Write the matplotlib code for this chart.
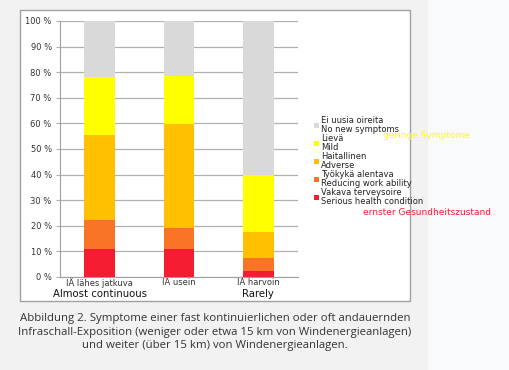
import numpy as np
import matplotlib.pyplot as plt
from matplotlib.patches import Rectangle

# data (percent), one list per symptom class
kategoriat = ["IÄ lähes jatkuva", "IÄ usein", "IÄ harvoin"]
englanti = ["Almost continuous", "", "Rarely"]
vakava = [11.0, 10.8, 2.4]
tyokyky = [11.2, 8.5, 5.1]
haitallinen = [33.3, 40.3, 10.0]
lieva = [22.5, 19.0, 22.5]
ei_uusia = [22.0, 21.4, 60.0]

sarjat = [
    ("Vakava terveysoire\nSerious health condition", vakava, "#f41c31"),
    ("Työkykä alentava\nReducing work ability", tyokyky, "#fa7427"),
    ("Haitallinen\nAdverse", haitallinen, "#ffc000"),
    ("Lievä\nMild", lieva, "#ffff00"),
    ("Ei uusia oireita\nNo new symptoms", ei_uusia, "#d9d9d9"),
]

W, H = 510, 370
fig = plt.figure(figsize=(W / 100, H / 100), dpi=100)
fig.patch.set_facecolor("#f9fafc")

# gray panel + white chart box
fig.patches.append(Rectangle((0, 0), 428 / W, 1, transform=fig.transFigure,
                             facecolor="#f2f2f2", edgecolor="none", zorder=-2))
fig.patches.append(Rectangle((20 / W, 1 - 301 / H), 390 / W, 291 / H,
                             transform=fig.transFigure, facecolor="white",
                             edgecolor="#a0a0a0", linewidth=1.0, zorder=-1))

ax = fig.add_axes([60 / W, 1 - 277 / H, 238 / W, 256 / H])
ax.set_facecolor("none")
x = np.arange(len(kategoriat))
pohja = np.zeros(len(kategoriat))
for nimi, arvot, vari in sarjat:
    ax.bar(x, arvot, 0.39, bottom=pohja, color=vari, label=nimi, zorder=3)
    pohja = pohja + np.array(arvot)

ax.set_xlim(-0.5, 2.5)
ax.set_ylim(0, 100)
ax.set_yticks(np.arange(0, 101, 10))
ax.set_yticklabels([f"{v} %" for v in range(0, 101, 10)], fontsize=6, color="#333333")
ax.yaxis.grid(True, color="#b0b0b0", linewidth=0.9, zorder=0)
ax.set_xticks(x)
ax.set_xticklabels(kategoriat, fontsize=6, color="#333333")
ax.tick_params(axis="x", length=0, pad=1)
ax.tick_params(axis="y", length=3, color="#b0b0b0", pad=3)
for s in ["top", "right"]:
    ax.spines[s].set_visible(False)
ax.spines["left"].set_color("#a0a0a0")
ax.spines["bottom"].set_color("#a0a0a0")

for i, t in enumerate(englanti):
    if t:
        ax.text(i, -4.6, t, ha="center", va="top", fontsize=7.3, color="#111111")

h, l = ax.get_legend_handles_labels()
leg = ax.legend(h[::-1], l[::-1], loc="upper left", bbox_to_anchor=(1.05, 0.645),
                frameon=False, fontsize=6, handlelength=0.55, handleheight=0.55,
                handletextpad=0.3, labelspacing=0.05, borderpad=0)
for t in leg.get_texts():
    t.set_color("#222222")
    t.set_linespacing(0.95)

fig.text(383 / W, 1 - 135.5 / H, "geringe Symptome", color="#ffff00", fontsize=6.5,
         va="center")
fig.text(363 / W, 1 - 212.5 / H, "ernster Gesundheitszustand", color="#ff1a2e",
         fontsize=6.5, va="center")

caption = ("Abbildung 2. Symptome einer fast kontinuierlichen oder oft andauernden\n"
           "Infraschall-Exposition (weniger oder etwa 15 km von Windenergieanlagen)\n"
           "und weiter (über 15 km) von Windenergieanlagen.")
fig.text(215 / W, 1 - 332 / H, caption, ha="center", va="center", fontsize=8.2,
         color="#333333", family="Open Sans", linespacing=1.35)

fig.savefig("out.png", dpi=100, facecolor=fig.get_facecolor())
